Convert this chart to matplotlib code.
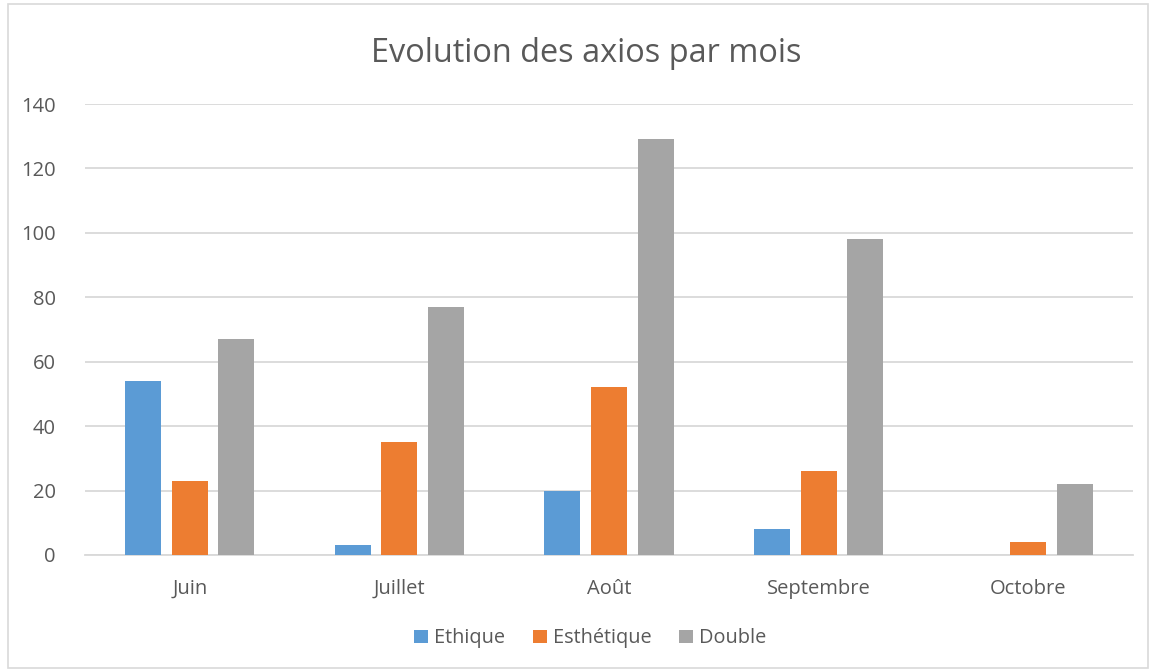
import matplotlib.pyplot as plt
from matplotlib.patches import Rectangle
import numpy as np

plt.rcParams['font.family'] = ['Open Sans', 'DejaVu Sans']

# --- Données ---
mois = ["Juin", "Juillet", "Août", "Septembre", "Octobre"]
ethique = [54, 3, 20, 8, 0]
esthetique = [23, 35, 52, 26, 4]
double = [67, 77, 129, 98, 22]

series = [("Ethique", ethique, "#5B9BD5"),
          ("Esthétique", esthetique, "#ED7D31"),
          ("Double", double, "#A5A5A5")]

texte = "#595959"
grille = "#D9D9D9"

fig = plt.figure(figsize=(11.54, 6.72), dpi=100)
ax = fig.add_axes([85 / 1154, 117 / 672, 1048 / 1154, 451 / 672])

# bordure du graphique
fig.patches.append(Rectangle((8 / 1154, 4 / 672), 1140 / 1154, 664 / 672,
                             transform=fig.transFigure, fill=False,
                             edgecolor=grille, linewidth=1.2))

x = np.arange(len(mois))
largeur = 0.172
pas = 0.222
for i, (nom, valeurs, couleur) in enumerate(series):
    ax.bar(x + (i - 1) * pas, valeurs, width=largeur, color=couleur,
           label=nom, zorder=3)

ax.set_xlim(-0.5, len(mois) - 0.5)
ax.set_ylim(0, 140)
ax.set_yticks(range(0, 141, 20))
ax.set_xticks(x)
ax.set_xticklabels(mois)
ax.tick_params(axis='both', length=0, labelsize=14.5, colors=texte)
ax.tick_params(axis='x', pad=17)
ax.tick_params(axis='y', pad=21)
ax.grid(True, axis='y', color=grille, linewidth=1.3, zorder=0)
for side in ["top", "right", "left"]:
    ax.spines[side].set_visible(False)
ax.spines["bottom"].set_color(grille)
ax.spines["bottom"].set_linewidth(1.3)

fig.text(586 / 1154, 1 - 53 / 672, "Evolution des axios par mois",
         ha='center', va='center', fontsize=23.4, color=texte)

ax.legend(loc='center', bbox_to_anchor=(0.482, -0.185), ncol=3, frameon=False,
          fontsize=14.3, labelcolor=texte, handlelength=0.7, handleheight=0.7,
          handletextpad=0.3, columnspacing=1.4)

fig.savefig("out.png", dpi=100)
